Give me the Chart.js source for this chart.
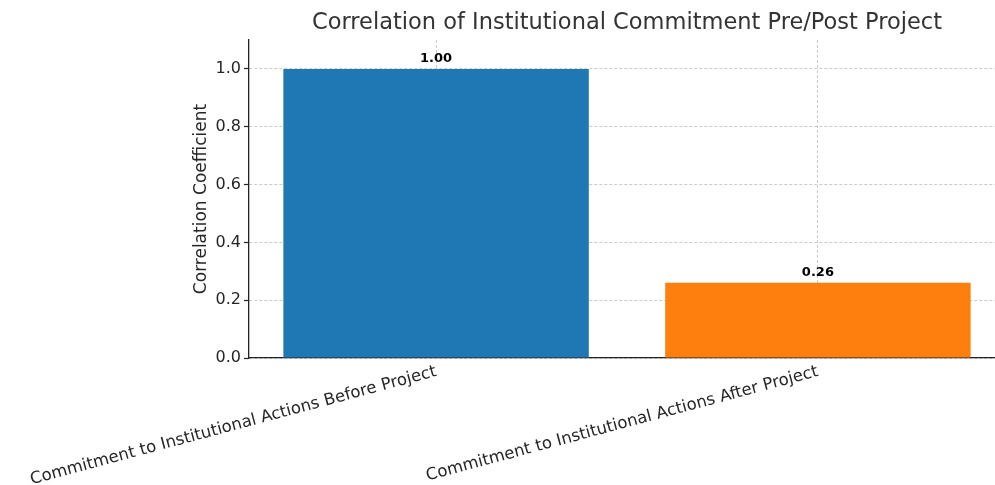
<!DOCTYPE html>
<html>
<head>
<meta charset="utf-8">
<script src="https://cdn.jsdelivr.net/npm/chart.js@4"></script>
<style>
  html, body { margin:0; padding:0; background:#fff; }
  #wrap { width:995px; height:485px; overflow:hidden; }
</style>
</head>
<body>
<div id="wrap"><canvas id="corrChart" width="1010" height="485"></canvas></div>
<script>
const categories = [
  'Commitment to Institutional Actions Before Project',
  'Commitment to Institutional Actions After Project'
];
const correlations = [1.00, 0.26];
const barColors = ['#1f77b4', '#ff7f0e'];
const yTicks = [0, 0.2, 0.4, 0.6, 0.8, 1.0];

const FONT = "'DejaVu Sans', sans-serif";
const TEXT = '#262626';
const GRID = 'rgba(185,185,185,0.75)';

// value labels above bars
const valueLabels = {
  id: 'valueLabels',
  afterDatasetsDraw(chart){
    const ctx = chart.ctx;
    const meta = chart.getDatasetMeta(0);
    ctx.save();
    ctx.font = 'bold 13px ' + FONT;
    ctx.fillStyle = '#000';
    ctx.textAlign = 'center';
    ctx.textBaseline = 'bottom';
    meta.data.forEach((bar, i)=>{
      ctx.fillText(correlations[i].toFixed(2), bar.x, bar.y - 4);
    });
    ctx.restore();
  }
};

const ctx = document.getElementById('corrChart').getContext('2d');
new Chart(ctx, {
  type: 'bar',
  data: {
    datasets: [{
      data: correlations.map((v,i)=>({ x: i, y: v })),
      backgroundColor: barColors,
      borderWidth: 0,
      categoryPercentage: 1,
      barPercentage: 0.8
    }]
  },
  options: {
    responsive: false,
    animation: false,
    layout: { padding: { left: 188, right: 5, top: 0, bottom: 0 } },
    plugins: {
      legend: { display: false },
      tooltip: { enabled: false },
      title: {
        display: true,
        text: 'Correlation of Institutional Commitment Pre/Post Project',
        fullSize: false,
        color: '#333',
        font: { family: FONT, size: 22.5, weight: 'normal' },
        padding: { top: 10, bottom: 3 }
      }
    },
    scales: {
      x: {
        type: 'linear',
        min: -0.49,
        max: 1.49,
        offset: false,
        z: 1,
        afterBuildTicks: s => { s.ticks = categories.map((c,i)=>({ value: i })); },
        afterFit: s => { s.height = 127; s.paddingLeft = 0; s.paddingRight = 0; },
        ticks: {
          minRotation: 15,
          maxRotation: 15,
          autoSkip: false,
          padding: 4,
          color: TEXT,
          font: { family: FONT, size: 16.5 },
          callback: v => categories[v] || ''
        },
        grid: { offset: false, color: GRID, drawTicks: false, lineWidth: 1 },
        border: { color: '#222', width: 1.3, dash: [3, 2] }
      },
      y: {
        min: 0,
        max: 1.1,
        z: 1,
        afterBuildTicks: s => { s.ticks = yTicks.map(v=>({ value: v })); },
        afterFit: s => { s.width = 61; },
        title: {
          display: true,
          text: 'Correlation Coefficient',
          color: TEXT,
          font: { family: FONT, size: 17 },
          padding: { top: 3, bottom: 4 }
        },
        ticks: {
          padding: 3,
          color: TEXT,
          font: { family: FONT, size: 16 },
          callback: v => Number(v).toFixed(1)
        },
        grid: {
          color: GRID,
          lineWidth: 1,
          tickLength: 5,
          tickColor: '#222',
          tickBorderDash: [],
          tickWidth: 1.2
        },
        border: { color: '#222', width: 1.3, dash: [3, 2] }
      }
    }
  },
  plugins: [valueLabels]
});
</script>
</body>
</html>
